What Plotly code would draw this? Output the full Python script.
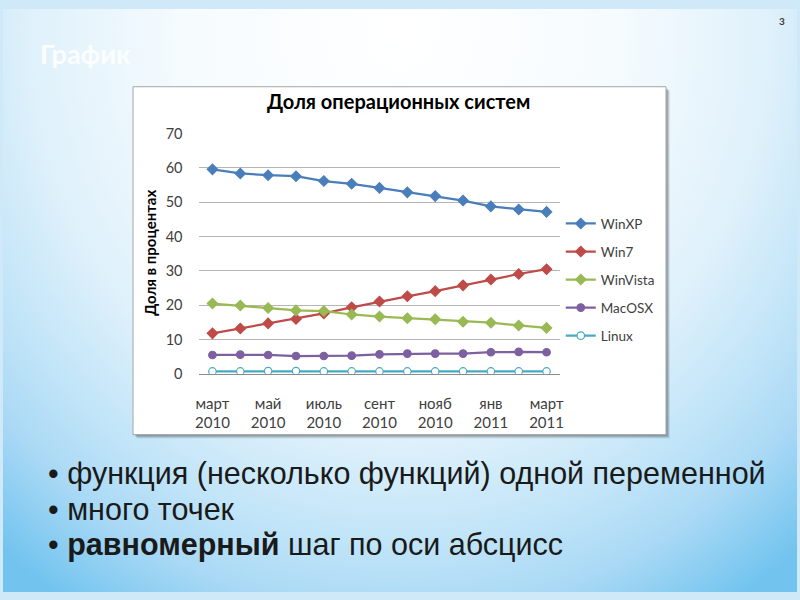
import base64
import plotly.graph_objects as go

# monthly share of desktop OSes, March 2010 .. March 2011
MONTHS = ["март 2010", "апр 2010", "май 2010", "июнь 2010", "июль 2010", "авг 2010",
          "сент 2010", "окт 2010", "нояб 2010", "дек 2010", "янв 2011", "февр 2011", "март 2011"]
WINXP = [59.6, 58.4, 57.9, 57.6, 56.2, 55.4, 54.2, 52.9, 51.8, 50.5, 48.8, 47.9, 47.2]
WIN7 = [11.8, 13.2, 14.7, 16.0, 17.6, 19.4, 21.1, 22.6, 24.1, 25.8, 27.5, 29.1, 30.5]
WINVISTA = [20.5, 19.9, 19.2, 18.5, 18.3, 17.3, 16.7, 16.2, 15.9, 15.2, 14.9, 14.1, 13.4]
MACOSX = [5.5, 5.6, 5.5, 5.2, 5.2, 5.3, 5.7, 5.9, 5.9, 5.9, 6.3, 6.4, 6.3]
LINUX = [0.7, 0.7, 0.8, 0.8, 0.7, 0.7, 0.7, 0.7, 0.7, 0.7, 0.7, 0.7, 0.7]

TICK_MONTHS = MONTHS[::2]
TICK_TEXT = [m.replace(" ", "<br>") for m in TICK_MONTHS]
Y_TICKS = [0, 10, 20, 30, 40, 50, 60, 70]

BULLETS = ["функция (несколько функций) одной переменной",
           "много точек",
           "<b>равномерный</b> шаг по оси абсцисс"]

W, H = 800, 600                # slide laid out in 800x600 pixel units
px = lambda x: x / W           # pixel -> paper
py = lambda y: 1 - y / H

FONT = "Lato"
GREY = "#404040"

# slide background: radial gradient, white near top centre, blue towards the corners
STOPS = [(0.0, "#ffffff"), (0.35, "#f6fbfe"), (0.6, "#dff1fb"), (0.76, "#c0e4f8"),
         (0.86, "#aad9f5"), (1.0, "#72c4ef")]
svg = (
    '<svg xmlns="http://www.w3.org/2000/svg" width="800" height="600" viewBox="0 0 800 600" '
    'preserveAspectRatio="none"><defs><radialGradient id="g" gradientUnits="userSpaceOnUse" '
    'cx="400" cy="20" r="700" gradientTransform="translate(400 20) scale(0.886 1) translate(-400 -20)">'
    + "".join(f'<stop offset="{o}" stop-color="{c}"/>' for o, c in STOPS)
    + '</radialGradient></defs><rect x="0" y="0" width="800" height="600" fill="url(#g)"/></svg>'
)
BG = "data:image/svg+xml;base64," + base64.b64encode(svg.encode()).decode()

fig = go.Figure()

series = [
    ("WinXP", WINXP, "#4a7ebb", "diamond", "#4a7ebb"),
    ("Win7", WIN7, "#be4b48", "diamond", "#be4b48"),
    ("WinVista", WINVISTA, "#98b954", "diamond", "#98b954"),
    ("MacOSX", MACOSX, "#7d60a0", "circle", "#7d60a0"),
    ("Linux", LINUX, "#46aac5", "circle", "white"),
]
for name, vals, col, sym, fill in series:
    fig.add_trace(go.Scatter(
        x=MONTHS, y=vals, name=name,
        mode="lines+markers", legendgroup=name,
        line=dict(color=col, width=2.25),
        marker=dict(symbol=sym, size=8 if sym == "diamond" else 7.5, color=fill,
                    line=dict(color=col, width=1.2))))

# chart box with a soft shadow
shapes = []
for off, a in [(4, 0.08), (3, 0.12), (2, 0.16)]:
    shapes.append(dict(type="rect", xref="paper", yref="paper", layer="below",
                       x0=px(131 + off), x1=px(668 + off), y0=py(438 + off), y1=py(80 + off),
                       fillcolor=f"rgba(0,0,0,{a})", line=dict(width=0)))
shapes.append(dict(type="rect", xref="paper", yref="paper", layer="below",
                   x0=px(131), x1=px(668), y0=py(438), y1=py(80),
                   fillcolor="white", line=dict(color="#a6a6a6", width=1)))

annotations = [
    dict(text="<b>График</b>", x=px(35), y=py(46), xanchor="left", yanchor="middle",
         font=dict(family=FONT, size=27, color="#fbfdff")),
    dict(text="<b>3</b>", x=px(785), y=py(12), xanchor="center", yanchor="middle",
         font=dict(family=FONT, size=10, color="#3a3a3a")),
    dict(text="<b>Доля операционных систем</b>", x=px(398), y=py(95),
         xanchor="center", yanchor="middle",
         font=dict(family=FONT, size=20, color="#000000")),
    dict(text="<b>Доля в процентах</b>", x=px(148), y=py(251), textangle=-90,
         xanchor="center", yanchor="middle",
         font=dict(family=FONT, size=15, color="#000000")),
]
for i, b in enumerate(BULLETS):
    annotations.append(dict(
        text="• " + b, x=px(43), y=py(478 + 36.5 * i), xanchor="left", yanchor="middle",
        font=dict(family="Liberation Sans", size=30.5, color="#1a1a1a")))
for a in annotations:
    a.update(xref="paper", yref="paper", showarrow=False)

fig.update_layout(
    width=W, height=H,
    margin=dict(l=0, r=0, t=0, b=0),
    paper_bgcolor="#cfe9f8", plot_bgcolor="rgba(0,0,0,0)",
    images=[dict(source=BG, xref="paper", yref="paper", x=0, y=1, sizex=1, sizey=1,
                 xanchor="left", yanchor="top", sizing="stretch", layer="below")],
    shapes=shapes,
    xaxis=dict(domain=[px(197), px(561.7)], type="category",
               categoryorder="array", categoryarray=MONTHS, range=[-0.5, 12.5],
               tickmode="array", tickvals=TICK_MONTHS, ticktext=TICK_TEXT,
               showgrid=False, showline=True, linecolor="#8c8c8c", linewidth=1,
               ticks="", ticklabelstandoff=16, fixedrange=True,
               tickfont=dict(family=FONT, size=15, color=GREY)),
    yaxis=dict(domain=[py(375.5), py(128.3)], range=[0, 70],
               tickmode="array", tickvals=Y_TICKS,
               showgrid=True, gridcolor="#b5b5b5", gridwidth=1,
               zeroline=False, showline=False, ticks="", ticklabelstandoff=15,
               fixedrange=True, tickfont=dict(family=FONT, size=14.5, color=GREY)),
    legend=dict(x=px(562), y=py(205), xanchor="left", yanchor="top",
                bgcolor="rgba(0,0,0,0)", tracegroupgap=7.5,
                font=dict(family=FONT, size=13.5, color=GREY)),
    annotations=annotations,
    showlegend=True,
)

# no body margin and no scrollbars, so the 800x600 figure fills the window
fig.write_html("out.html", config={"displayModeBar": False},
               post_script="document.body.style.margin='0';"
                           "document.body.style.overflow='hidden';"
                           "document.documentElement.style.overflow='hidden';")
